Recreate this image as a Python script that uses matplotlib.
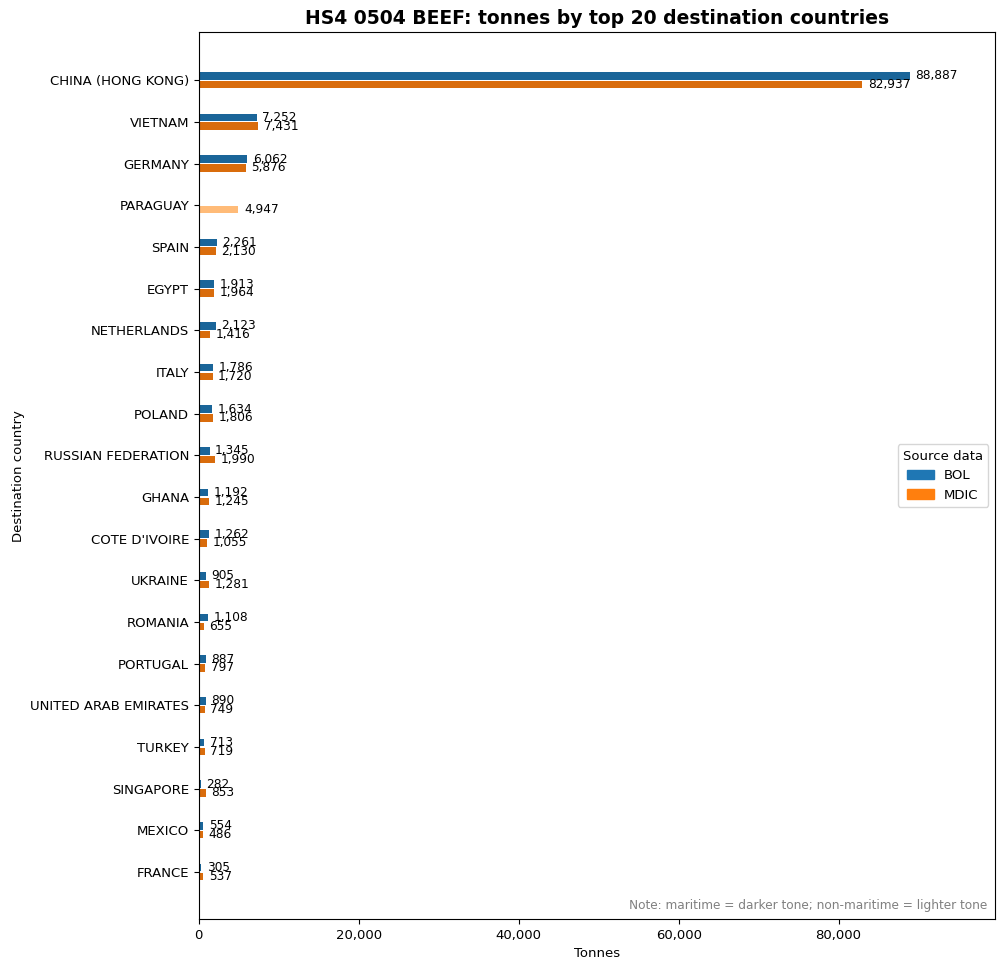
import numpy as np
import matplotlib
matplotlib.use("Agg")
import matplotlib.pyplot as plt
from matplotlib.patches import Patch
from matplotlib.ticker import FuncFormatter

plt.rcParams["font.size"] = 9.5

# top 20 destinations (tonnes)
countries = ["CHINA (HONG KONG)", "VIETNAM", "GERMANY", "PARAGUAY", "SPAIN", "EGYPT",
             "NETHERLANDS", "ITALY", "POLAND", "RUSSIAN FEDERATION", "GHANA",
             "COTE D'IVOIRE", "UKRAINE", "ROMANIA", "PORTUGAL", "UNITED ARAB EMIRATES",
             "TURKEY", "SINGAPORE", "MEXICO", "FRANCE"]

bol_maritime = [88887, 7252, 6062, 0, 2261, 1913, 2123, 1786, 1634, 1345,
                1192, 1262, 905, 1108, 887, 890, 713, 282, 554, 305]
bol_nonmaritime = [0] * 20
mdic_maritime = [82937, 7431, 5876, 0, 2130, 1964, 1416, 1720, 1806, 1990,
                 1245, 1055, 1281, 655, 797, 749, 719, 853, 486, 537]
mdic_nonmaritime = [0, 0, 0, 4947, 0, 0, 0, 0, 0, 0,
                    0, 0, 0, 0, 0, 0, 0, 0, 0, 0]

# colours
bol_dark, bol_light = "#1a6599", "#aec7e8"
mdic_dark, mdic_light = "#d96c0c", "#ffbb78"

y = np.arange(len(countries))
h = 0.18
off = 0.105

fig, ax = plt.subplots(figsize=(10.04, 9.69), dpi=100)
fig.subplots_adjust(left=0.198, right=0.991, top=0.9667, bottom=0.0516)

series = [
    (np.array(bol_maritime), np.array(bol_nonmaritime), bol_dark, bol_light, -off),
    (np.array(mdic_maritime), np.array(mdic_nonmaritime), mdic_dark, mdic_light, off),
]
for mar, non, dark, light, dy in series:
    ax.barh(y + dy, mar, height=h, color=dark)
    ax.barh(y + dy, non, left=mar, height=h, color=light)
    total = mar + non
    for yi, t in zip(y + dy, total):
        if t <= 0:
            continue
        ax.annotate(f"{t:,.0f}", xy=(t, yi), xytext=(4, 0), textcoords="offset points",
                    va="center", ha="left", fontsize=8.7)

ax.set_yticks(y)
ax.set_yticklabels(countries)
ax.set_ylim(20.13, -1.15)
ax.set_xlim(0, max(bol_maritime) * 1.12)
ax.xaxis.set_major_formatter(FuncFormatter(lambda v, p: f"{v:,.0f}"))

ax.set_xlabel("Tonnes")
ax.set_ylabel("Destination country")
ax.set_title("HS4 0504 BEEF: tonnes by top 20 destination countries",
             fontsize=13.5, fontweight="bold")

handles = [Patch(color="#1f77b4", label="BOL"), Patch(color="#ff7f0e", label="MDIC")]
ax.legend(handles=handles, title="Source data", loc="center right")

ax.text(0.99, 0.008, "Note: maritime = darker tone; non-maritime = lighter tone",
        transform=ax.transAxes, ha="right", va="bottom", fontsize=8.7, color="gray")

plt.savefig("out.png", dpi=100)
